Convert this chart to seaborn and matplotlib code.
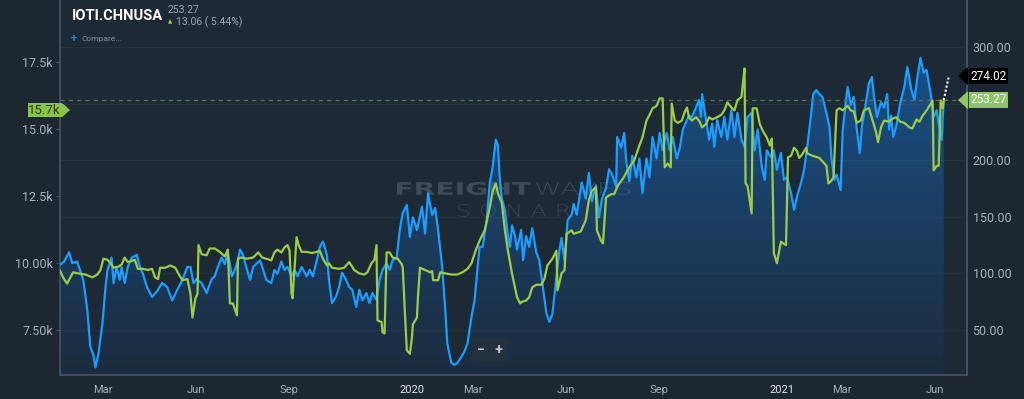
import numpy as np
import pandas as pd
import seaborn as sns
import matplotlib.pyplot as plt
import matplotlib.dates as mdates
from matplotlib.colors import LinearSegmentedColormap
from matplotlib.transforms import blended_transform_factory, Affine2D, IdentityTransform
from matplotlib.textpath import TextPath
from matplotlib.patches import PathPatch
from matplotlib.font_manager import FontProperties

# ---- data ----
# blue series (left axis, thousands)
blue_dates = ["2019-01-18", "2019-01-22", "2019-01-27", "2019-01-30", "2019-02-04", "2019-02-10", "2019-02-14",
              "2019-02-17", "2019-02-20", "2019-02-22", "2019-02-25", "2019-03-01", "2019-03-04", "2019-03-06",
              "2019-03-10", "2019-03-12", "2019-03-15", "2019-03-18", "2019-03-20", "2019-03-23", "2019-03-26",
              "2019-03-30", "2019-04-04", "2019-04-07", "2019-04-10", "2019-04-14", "2019-04-19", "2019-04-24",
              "2019-04-29", "2019-05-04", "2019-05-09", "2019-05-14", "2019-05-19", "2019-05-24", "2019-05-27",
              "2019-05-30", "2019-06-02", "2019-06-07", "2019-06-12", "2019-06-17", "2019-06-20", "2019-06-23",
              "2019-06-27", "2019-06-30", "2019-07-03", "2019-07-07", "2019-07-10", "2019-07-13", "2019-07-15",
              "2019-07-18", "2019-07-22", "2019-07-25", "2019-07-28", "2019-08-01", "2019-08-04", "2019-08-07",
              "2019-08-10", "2019-08-15", "2019-08-18", "2019-08-21", "2019-08-25", "2019-08-28", "2019-08-31",
              "2019-09-04", "2019-09-07", "2019-09-10", "2019-09-14", "2019-09-19", "2019-09-22", "2019-09-25",
              "2019-09-29", "2019-10-02", "2019-10-05", "2019-10-09", "2019-10-11", "2019-10-14", "2019-10-18",
              "2019-10-21", "2019-10-24", "2019-10-28", "2019-10-31", "2019-11-03", "2019-11-07", "2019-11-10",
              "2019-11-13", "2019-11-17", "2019-11-20", "2019-11-23", "2019-11-27", "2019-11-30", "2019-12-03",
              "2019-12-07", "2019-12-10", "2019-12-13", "2019-12-17", "2019-12-20", "2019-12-23", "2019-12-27",
              "2019-12-30", "2020-01-02", "2020-01-06", "2020-01-11", "2020-01-14", "2020-01-17", "2020-01-21",
              "2020-01-24", "2020-01-27", "2020-01-31", "2020-02-03", "2020-02-05", "2020-02-09", "2020-02-12",
              "2020-02-15", "2020-02-19", "2020-02-22", "2020-02-25", "2020-02-29", "2020-03-03", "2020-03-06",
              "2020-03-08", "2020-03-11", "2020-03-15", "2020-03-18", "2020-03-21", "2020-03-24", "2020-03-26",
              "2020-03-28", "2020-03-30", "2020-04-02", "2020-04-05", "2020-04-07", "2020-04-09", "2020-04-12",
              "2020-04-14", "2020-04-18", "2020-04-20", "2020-04-23", "2020-04-26", "2020-04-29", "2020-05-03",
              "2020-05-06", "2020-05-09", "2020-05-13", "2020-05-16", "2020-05-19", "2020-05-23", "2020-05-26",
              "2020-05-28", "2020-05-31", "2020-06-03", "2020-06-07", "2020-06-09", "2020-06-12", "2020-06-17",
              "2020-06-21", "2020-06-24", "2020-06-27", "2020-07-01", "2020-07-04", "2020-07-07", "2020-07-11",
              "2020-07-14", "2020-07-17", "2020-07-21", "2020-07-22", "2020-07-26", "2020-07-29", "2020-07-31",
              "2020-08-03", "2020-08-06", "2020-08-10", "2020-08-13", "2020-08-16", "2020-08-20", "2020-08-23",
              "2020-08-26", "2020-08-30", "2020-09-02", "2020-09-05", "2020-09-09", "2020-09-12", "2020-09-15",
              "2020-09-19", "2020-09-22", "2020-09-25", "2020-09-29", "2020-10-01", "2020-10-04", "2020-10-08",
              "2020-10-11", "2020-10-13", "2020-10-14", "2020-10-18", "2020-10-21", "2020-10-24", "2020-10-26",
              "2020-10-29", "2020-11-02", "2020-11-05", "2020-11-08", "2020-11-12", "2020-11-15", "2020-11-18",
              "2020-11-22", "2020-11-25", "2020-11-28", "2020-12-02", "2020-12-05", "2020-12-08", "2020-12-12",
              "2020-12-15", "2020-12-17", "2020-12-21", "2020-12-24", "2020-12-27", "2020-12-31", "2021-01-03",
              "2021-01-06", "2021-01-10", "2021-01-13", "2021-01-16", "2021-01-20", "2021-01-23", "2021-01-26",
              "2021-01-30", "2021-02-01", "2021-02-04", "2021-02-07", "2021-02-10", "2021-02-14", "2021-02-17",
              "2021-02-19", "2021-02-22", "2021-02-24", "2021-02-28", "2021-03-02", "2021-03-05", "2021-03-07",
              "2021-03-10", "2021-03-13", "2021-03-16", "2021-03-19", "2021-03-21", "2021-03-25", "2021-03-28",
              "2021-03-31", "2021-04-02", "2021-04-05", "2021-04-09", "2021-04-12", "2021-04-15", "2021-04-17",
              "2021-04-19", "2021-04-21", "2021-04-24", "2021-04-28", "2021-05-02", "2021-05-05", "2021-05-09",
              "2021-05-12", "2021-05-15", "2021-05-18", "2021-05-21", "2021-05-24", "2021-05-28", "2021-05-31",
              "2021-06-03", "2021-06-05", "2021-06-08", "2021-06-09", "2021-06-10"]
blue_k = [9.93, 10.05, 10.4, 10.0, 10.05, 9.37, 8.25, 6.87, 6.57, 6.1, 6.6, 7.76, 9.1, 9.74, 10.2, 9.25, 9.85,
          9.37, 9.85, 9.25, 9.85, 10.2, 10.3, 9.85, 9.6, 9.1, 8.73, 8.95, 9.25, 9.1, 8.6, 9.0, 9.37, 9.85, 9.85,
          9.25, 9.4, 9.25, 8.88, 9.4, 9.5, 9.85, 10.2, 9.95, 10.4, 9.5, 9.75, 10.1, 10.5, 10.3, 9.74, 9.37, 9.85,
          10.0, 10.1, 9.74, 9.37, 9.25, 9.74, 9.6, 10.05, 9.74, 9.85, 9.5, 9.74, 9.5, 9.85, 9.5, 9.74, 9.5, 10.1,
          10.6, 10.8, 10.3, 9.37, 8.5, 8.75, 9.1, 9.63, 9.37, 9.1, 9.0, 8.36, 9.0, 8.6, 8.88, 8.5, 8.88, 8.62, 9.37,
          9.74, 10.0, 9.74, 10.1, 10.2, 11.23, 11.87, 12.16, 10.97, 11.7, 11.23, 12.1, 11.1, 12.6, 11.8, 12.05,
          11.2, 9.85, 8.25, 7.0, 6.27, 6.2, 6.27, 6.5, 6.7, 7.0, 8.0, 8.6, 9.85, 10.6, 10.6, 11.6, 12.98, 13.6,
          14.6, 14.4, 13.1, 12.4, 11.98, 11.0, 10.6, 11.4, 11.0, 10.5, 11.23, 10.1, 11.0, 10.6, 11.3, 10.4, 10.1,
          9.25, 8.13, 7.8, 8.1, 9.5, 10.5, 10.93, 10.1, 11.6, 11.8, 12.2, 11.8, 13.0, 12.4, 13.36, 12.3, 12.9,
          11.7, 12.4, 12.8, 13.5, 13.3, 12.85, 14.7, 14.3, 14.85, 13.8, 13.05, 14.0, 13.2, 13.9, 12.6, 13.9, 13.2,
          14.7, 13.9, 14.85, 14.2, 14.85, 14.2, 14.7, 13.9, 14.3, 14.98, 15.33, 15.5, 15.45, 15.8, 16.08, 15.45,
          16.3, 15.33, 14.6, 15.2, 14.33, 15.33, 14.7, 15.45, 14.6, 15.7, 14.7, 15.6, 14.6, 14.33, 15.45, 15.6,
          14.2, 14.98, 13.6, 13.1, 14.2, 13.96, 14.2, 13.48, 14.1, 13.1, 13.2, 12.6, 11.98, 12.5, 13.0, 13.5,
          14.33, 15.6, 16.3, 16.45, 16.3, 16.2, 15.6, 15.07, 13.9, 13.1, 13.3, 12.72, 14.9, 15.97, 16.57, 15.9,
          16.2, 14.98, 14.1, 15.07, 15.97, 16.7, 16.94, 16.2, 15.45, 16.0, 15.8, 16.3, 14.98, 15.5, 14.7, 15.1,
          15.97, 16.57, 17.31, 16.45, 16.08, 16.94, 17.65, 17.1, 17.2, 16.33, 15.45, 15.7, 15.2, 14.6, 15.45, 15.97]

# green series (right axis, IOTI.CHNUSA)
green_dates = ["2019-01-18", "2019-01-21", "2019-01-25", "2019-01-28", "2019-01-31", "2019-02-05", "2019-02-12",
               "2019-02-19", "2019-02-24", "2019-02-27", "2019-03-02", "2019-03-06", "2019-03-09", "2019-03-12",
               "2019-03-17", "2019-03-20", "2019-03-23", "2019-03-26", "2019-03-30", "2019-04-02", "2019-04-05",
               "2019-04-10", "2019-04-15", "2019-04-19", "2019-04-22", "2019-04-25", "2019-04-27", "2019-05-02",
               "2019-05-07", "2019-05-12", "2019-05-15", "2019-05-19", "2019-05-24", "2019-05-27", "2019-05-29",
               "2019-06-01", "2019-06-03", "2019-06-04", "2019-06-07", "2019-06-12", "2019-06-15", "2019-06-20",
               "2019-06-25", "2019-06-30", "2019-07-03", "2019-07-05", "2019-07-08", "2019-07-12", "2019-07-13",
               "2019-07-16", "2019-07-22", "2019-07-28", "2019-08-02", "2019-08-06", "2019-08-10", "2019-08-15",
               "2019-08-18", "2019-08-21", "2019-08-25", "2019-08-28", "2019-08-31", "2019-09-02", "2019-09-04",
               "2019-09-05", "2019-09-07", "2019-09-09", "2019-09-11", "2019-09-14", "2019-09-19", "2019-09-24",
               "2019-09-29", "2019-10-02", "2019-10-05", "2019-10-09", "2019-10-11", "2019-10-14", "2019-10-21",
               "2019-10-26", "2019-10-31", "2019-11-05", "2019-11-10", "2019-11-15", "2019-11-18", "2019-11-22",
               "2019-11-25", "2019-11-27", "2019-11-28", "2019-12-02", "2019-12-03", "2019-12-05", "2019-12-07",
               "2019-12-10", "2019-12-13", "2019-12-18", "2019-12-22", "2019-12-23", "2019-12-25", "2019-12-27",
               "2019-12-30", "2020-01-01", "2020-01-02", "2020-01-06", "2020-01-07", "2020-01-09", "2020-01-14",
               "2020-01-19", "2020-01-21", "2020-01-22", "2020-01-27", "2020-01-29", "2020-02-03", "2020-02-09",
               "2020-02-15", "2020-02-20", "2020-02-25", "2020-02-29", "2020-03-04", "2020-03-08", "2020-03-13",
               "2020-03-18", "2020-03-21", "2020-03-24", "2020-03-26", "2020-03-30", "2020-04-02", "2020-04-05",
               "2020-04-09", "2020-04-14", "2020-04-17", "2020-04-19", "2020-04-23", "2020-04-26", "2020-04-29",
               "2020-05-03", "2020-05-08", "2020-05-11", "2020-05-14", "2020-05-19", "2020-05-23", "2020-05-24",
               "2020-05-28", "2020-05-31", "2020-06-02", "2020-06-07", "2020-06-09", "2020-06-16", "2020-06-21",
               "2020-06-24", "2020-06-27", "2020-07-01", "2020-07-02", "2020-07-06", "2020-07-08", "2020-07-11",
               "2020-07-16", "2020-07-19", "2020-07-23", "2020-07-28", "2020-08-03", "2020-08-08", "2020-08-13",
               "2020-08-16", "2020-08-20", "2020-08-23", "2020-08-26", "2020-08-30", "2020-09-02", "2020-09-05",
               "2020-09-07", "2020-09-10", "2020-09-13", "2020-09-14", "2020-09-17", "2020-09-20", "2020-09-24",
               "2020-09-27", "2020-09-29", "2020-10-01", "2020-10-04", "2020-10-08", "2020-10-11", "2020-10-14",
               "2020-10-18", "2020-10-21", "2020-10-24", "2020-10-29", "2020-11-02", "2020-11-05", "2020-11-08",
               "2020-11-12", "2020-11-15", "2020-11-18", "2020-11-22", "2020-11-23", "2020-11-25", "2020-11-26",
               "2020-11-28", "2020-12-02", "2020-12-03", "2020-12-07", "2020-12-10", "2020-12-13", "2020-12-17",
               "2020-12-20", "2020-12-22", "2020-12-24", "2020-12-27", "2020-12-31", "2021-01-03", "2021-01-05",
               "2021-01-07", "2021-01-10", "2021-01-13", "2021-01-16", "2021-01-18", "2021-01-21", "2021-01-25",
               "2021-01-26", "2021-01-31", "2021-02-07", "2021-02-14", "2021-02-16", "2021-02-19", "2021-02-21",
               "2021-02-24", "2021-02-27", "2021-03-02", "2021-03-07", "2021-03-10", "2021-03-13", "2021-03-16",
               "2021-03-20", "2021-03-23", "2021-03-28", "2021-03-31", "2021-04-04", "2021-04-06", "2021-04-09",
               "2021-04-12", "2021-04-17", "2021-04-19", "2021-04-24", "2021-04-28", "2021-05-02", "2021-05-07",
               "2021-05-10", "2021-05-14", "2021-05-17", "2021-05-20", "2021-05-24", "2021-05-27", "2021-05-30",
               "2021-05-31", "2021-06-03", "2021-06-05", "2021-06-07", "2021-06-09", "2021-06-10"]
green_vals = [102.6, 96.5, 91, 96, 101, 100, 99, 96.5, 99, 103, 113, 112, 109, 105, 106, 108, 114, 110, 111, 112,
              104, 104, 103, 104, 96.5, 95, 105, 105, 107, 105, 100, 94, 95, 82, 61, 78, 82, 125, 117, 116, 122,
              122, 119, 115, 121, 73.5, 73.5, 63, 113, 114, 113, 114, 118.5, 114, 113, 111.5, 118.5, 121, 118.5,
              123, 125, 120, 82, 78, 105, 132, 125, 119, 119, 118, 119, 120, 113, 107, 109, 105, 104, 105, 110, 103,
              100, 99, 101, 109, 112, 125, 58.5, 57, 48, 47, 118.5, 118.5, 114, 113, 108, 105, 67, 32, 29, 43, 55,
              61, 79, 105, 103, 101, 102, 94, 94, 101, 100, 99, 99, 101, 104, 109, 120, 129, 138, 158, 173, 179.5,
              171, 162, 138, 120, 100, 79, 73.5, 75, 76, 79, 87.6, 90, 90, 95, 107, 113, 120, 85, 100, 103, 135, 138,
              135, 137, 147, 164.5, 173, 176, 138, 129, 126.5, 167, 170, 170, 178, 184, 193.6, 200, 213, 220, 235,
              240, 245.8, 248, 254.6, 254.6, 193.6, 197, 193.6, 250, 235, 233, 235, 243, 246.6, 238, 235, 238, 235,
              229, 232, 238, 236, 238, 240, 244, 251, 246.6, 244, 253, 256, 265, 281, 179.5, 177, 153, 245.8, 245.8,
              232, 226, 220, 213, 219, 117.7, 109, 128, 126, 125, 202.5, 204, 211, 208, 202, 205, 211, 206, 204, 202,
              195, 179.5, 182, 185, 244, 246, 244, 248, 244, 243, 233, 235, 244, 246, 237, 225, 216, 229, 235, 234,
              236, 238, 234, 233, 229, 228, 236, 234, 239, 244, 248, 252.8, 191, 195, 195, 252.8, 246, 253.27]

forecast_dates = ["2021-06-10", "2021-06-15"]
forecast_vals = [253.27, 274.02]

x_tick_dates = ["2019-03-01", "2019-06-01", "2019-09-01", "2020-01-01", "2020-03-01",
                "2020-06-01", "2020-09-01", "2021-01-01", "2021-03-01", "2021-06-01"]
x_tick_labels = ["Mar", "Jun", "Sep", "2020", "Mar", "Jun", "Sep", "2021", "Mar", "Jun"]
left_ticks = [7.5, 10.0, 12.5, 15.0, 17.5]
left_labels = ["7.50k", "10.00k", "12.5k", "15.0k", "17.5k"]
right_ticks = [50, 100, 150, 200, 250, 300]
right_labels = ["50.00", "100.00", "150.00", "200.00", "", "300.00"]
left_tag_value = 15.7

BG = "#1c2732"
PLOT_BG = "#1d2935"
BLUE = "#1a9eff"
GREEN = "#9dcd45"
TICK = "#a9b2bb"
SPINE = "#46525e"

sns.set_theme(style="dark", rc={"figure.facecolor": BG, "axes.facecolor": PLOT_BG,
                                "axes.edgecolor": SPINE, "text.color": TICK,
                                "xtick.color": TICK, "ytick.color": TICK})
plt.rcParams["font.family"] = ["Roboto", "DejaVu Sans"]

blue = pd.DataFrame({"date": pd.to_datetime(blue_dates), "value": blue_k})
green = pd.DataFrame({"date": pd.to_datetime(green_dates), "value": green_vals})
fcst = pd.DataFrame({"date": pd.to_datetime(forecast_dates), "value": forecast_vals})

fig = plt.figure(figsize=(10.24, 3.99), dpi=100)
ax = fig.add_axes([60 / 1024, 24 / 399, 907 / 1024, 375 / 399])

LEFT_LIM = (5.82, 19.81)
RIGHT_LIM = (10.25, 341.5)

sns.lineplot(data=blue, x="date", y="value", ax=ax, color=BLUE, lw=1.6, zorder=3)

# gradient area under the blue line
poly = ax.fill_between(blue["date"], blue["value"], LEFT_LIM[0], color="none", lw=0)
xn = mdates.date2num(blue["date"])
cmap = LinearSegmentedColormap.from_list("fill", ["#1c2c3e", "#1a4f86"])
im = ax.imshow(np.linspace(0, 1, 256).reshape(-1, 1), cmap=cmap, aspect="auto", origin="lower",
               extent=[xn[0], xn[-1], LEFT_LIM[0], max(blue_k)], zorder=1)
im.set_clip_path(poly.get_paths()[0], transform=ax.transData)


def watermark(text, left, top, width, height, weight, color, alpha):
    # stretch a text outline into a pixel box (the logo font is very wide)
    tp = TextPath((0, 0), text, size=1, prop=FontProperties(family="DejaVu Sans", weight=weight))
    ext = tp.get_extents()
    tr = (Affine2D().translate(-ext.x0, -ext.y0)
          .scale(width / ext.width, height / ext.height)
          .translate(left, 399 - top - height))
    patch = PathPatch(tr.transform_path(tp), fc=color, ec="none", alpha=alpha,
                      transform=IdentityTransform(), zorder=2)
    ax.add_artist(patch)


watermark("FREIGHT", 397, 182, 134, 13, "bold", "#6b7580", 0.45)
watermark("WAVES", 536, 182, 94, 13, "light", "#6b7580", 0.40)
watermark("S O N A R", 458, 204, 112, 13, "light", "#6b7580", 0.35)

# zoom buttons
ax.text(0.474, 0.067, "\u2212   +", transform=ax.transAxes, ha="center", va="center", fontsize=10,
        color="#c5cbd1", fontweight="bold", zorder=6,
        bbox=dict(boxstyle="round,pad=0.35,rounding_size=0.2", fc="#24313f", ec="none"))

ax2 = ax.twinx()
ax2.axhline(green_vals[-1], color="#56705a", lw=1, ls=(0, (3, 3)), zorder=1)
sns.lineplot(data=green, x="date", y="value", ax=ax2, color=GREEN, lw=1.6, zorder=3)
sns.lineplot(data=fcst, x="date", y="value", ax=ax2, color="white", lw=1.5, ls=(0, (1, 1)), zorder=3)

ax.set_xlim(pd.Timestamp("2019-01-18"), pd.Timestamp("2021-07-03"))
ax.set_ylim(*LEFT_LIM)
ax2.set_ylim(*RIGHT_LIM)

ax.set_xticks(pd.to_datetime(x_tick_dates))
ax.set_xticklabels(x_tick_labels)
ax.set_yticks(left_ticks)
ax.set_yticklabels(left_labels)
ax2.set_yticks(right_ticks)
ax2.set_yticklabels(right_labels)
for a in (ax, ax2):
    a.set_xlabel("")
    a.set_ylabel("")

for lab in ax.get_xticklabels():
    if lab.get_text().startswith("20"):
        lab.set_color("#e4e7ea")

ax.tick_params(axis="x", length=4, width=0.8, color=SPINE, labelsize=8, pad=3)
ax.tick_params(axis="y", length=3, width=0.8, color=SPINE, labelsize=9, pad=2, left=True)
ax2.tick_params(axis="y", length=0, labelsize=9, pad=4, right=True)

ax.spines["top"].set_visible(False)
ax2.spines["top"].set_visible(False)
ax2.spines["left"].set_visible(False)
ax2.spines["bottom"].set_visible(False)
for s in ("left", "bottom", "right"):
    ax.spines[s].set_color(SPINE)
ax2.spines["right"].set_color(SPINE)

ax.grid(False)
ax2.grid(True, color="white", alpha=0.045, lw=0.8)

# value tags
tr2 = blended_transform_factory(ax2.transAxes, ax2.transData)
tag_marker_l = [(-1.1, 0), (0, 1), (0, -1)]
ax2.text(1.0035, forecast_vals[-1], f"{forecast_vals[-1]:.2f}", transform=tr2, ha="left", va="center",
         fontsize=8.5, color="white", zorder=10, clip_on=False,
         bbox=dict(boxstyle="square,pad=0.12", fc="black", ec="none"))
ax2.plot([1.0], [forecast_vals[-1]], transform=tr2, marker=tag_marker_l, ms=13, color="black",
         clip_on=False, zorder=10)
ax2.text(1.0035, green_vals[-1], f"{green_vals[-1]:.2f}", transform=tr2, ha="left", va="center",
         fontsize=8.5, color="white", zorder=10, clip_on=False,
         bbox=dict(boxstyle="square,pad=0.12", fc="#8fc46a", ec="none"))
ax2.plot([1.0], [green_vals[-1]], transform=tr2, marker=tag_marker_l, ms=13, color="#8fc46a",
         clip_on=False, zorder=10)

tr1 = blended_transform_factory(ax.transAxes, ax.transData)
ax.text(0.001, left_tag_value, f"{left_tag_value}k", transform=tr1, ha="right", va="center",
        fontsize=9.5, color="#2c3a28", zorder=10, clip_on=False,
        bbox=dict(boxstyle="square,pad=0.05", fc="#8bc34a", ec="none"))
ax.plot([0.0022], [left_tag_value], transform=tr1, marker=[(1.1, 0), (0, 1), (0, -1)], ms=10,
        color="#8bc34a", clip_on=False, zorder=10)

# header
fig.text(72 / 1024, 1 - 16 / 399, "IOTI.CHNUSA", fontsize=10.5, fontweight="bold", color="white",
         va="center", ha="left")
fig.text(168 / 1024, 1 - 10 / 399, f"{green_vals[-1]:.2f}", fontsize=7.5, color="#a0a8b0",
         va="center", ha="left")
fig.text(168 / 1024, 1 - 22 / 399, "\u25b2", fontsize=4, color=GREEN, va="center", ha="left")
fig.text(176 / 1024, 1 - 22 / 399, "13.06 ( 5.44%)", fontsize=7.5, color="#a0a8b0",
         va="center", ha="left")
fig.text(71 / 1024, 1 - 39 / 399, "+", fontsize=8, color="#2f7de1", fontweight="bold",
         va="center", ha="left")
fig.text(81 / 1024, 1 - 39.5 / 399, "Compare...", fontsize=6, color="#8a949e", va="center", ha="left")

fig.savefig("out.png", dpi=100, facecolor=BG)
